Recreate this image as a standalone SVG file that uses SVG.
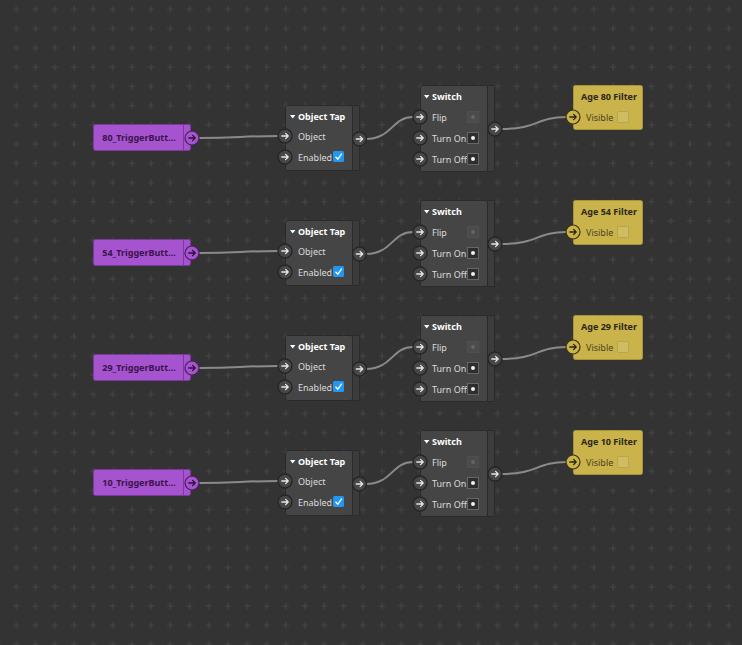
<svg xmlns="http://www.w3.org/2000/svg" width="742" height="645" viewBox="0 0 742 645">
<defs>
<pattern id="grid" x="6.7" y="-0.3" width="19.25" height="19.25" patternUnits="userSpaceOnUse">
<path d="M9.6,6.3 V12.9 M6.3,9.6 H12.9" stroke="#464646" stroke-width="1.1" fill="none"/>
</pattern>
<symbol id="arr" viewBox="-5 -5 10 10" overflow="visible">
<path d="M-3.2,0 H3.2 M0.6,-2.6 L3.2,0 L0.6,2.6" fill="none" stroke-width="1.3" stroke-linecap="round" stroke-linejoin="round"/>
</symbol>
<g id="tri"><path d="M0,0 H5.4 L2.7,3.6 Z" fill="#fff"/></g>
</defs>
<style>
text{font-family:"Noto Sans","Liberation Sans",Arial,sans-serif;font-size:9px}
.title{font-weight:bold;fill:#ffffff}
.lbl{fill:#dcdcdc}
.body{fill:#454545;stroke:#2a2a2a;stroke-width:1}
.strip{fill:#3c3c3c;stroke:#2a2a2a;stroke-width:1}
.port{fill:#474747;stroke:#262626;stroke-width:1.4}
.parr{stroke:#e8e8e8}
.trig{fill:#a653d0;stroke:#7a3a9a;stroke-width:1}
.trigt{font-weight:bold;fill:#3a1448;text-anchor:middle}
.tport{fill:#a653d0;stroke:#4a1e5e;stroke-width:1.2}
.tarr{stroke:#2a1035}
.filt{fill:#cab34a;stroke:#a8923a;stroke-width:1}
.filtt{font-weight:bold;fill:#2b2716;text-anchor:middle}
.filtl{fill:#4a4222}
.fport{fill:#cab34a;stroke:#3a3412;stroke-width:1.2}
.farr{stroke:#2a2610}
.fchk{fill:#d0bd62;stroke:#b9a54a;stroke-width:1}
.ind{fill:#2e2e2e;stroke:#666666;stroke-width:1}
.indoff{fill:#4b4b4b;stroke:#4f4f4f;stroke-width:1}
.chk{fill:#2196f3}
.wire{fill:none;stroke:#8a8a8a;stroke-width:2}
</style>
<rect width="742" height="645" fill="#333333"/>
<rect width="742" height="645" fill="url(#grid)"/>

<g id="connectors">
<path class="wire" d="M199,138 C240,138 240,136 278,136"/>
<path class="wire" d="M366,139 C392,139 392,117 413,117"/>
<path class="wire" d="M502,129 C537,129 537,117 566,117"/>
<path class="wire" d="M199,253 C240,253 240,251 278,251"/>
<path class="wire" d="M366,254 C392,254 392,232 413,232"/>
<path class="wire" d="M502,244 C537,244 537,232 566,232"/>
<path class="wire" d="M199,368 C240,368 240,366 278,366"/>
<path class="wire" d="M366,369 C392,369 392,347 413,347"/>
<path class="wire" d="M502,359 C537,359 537,347 566,347"/>
<path class="wire" d="M199,483 C240,483 240,481 278,481"/>
<path class="wire" d="M366,484 C392,484 392,462 413,462"/>
<path class="wire" d="M502,474 C537,474 537,462 566,462"/>
</g>

<!-- Row 1 -->
<g id="trigger80">
<rect class="trig" x="93.5" y="124.5" width="97" height="26" rx="2"/>
<line x1="183.5" y1="125" x2="183.5" y2="150" stroke="#7a3a9a"/>
<text class="trigt" x="139" y="140.5">80_TriggerButt...</text>
<circle class="tport" cx="192" cy="138" r="7"/>
<use href="#arr" x="187" y="133" width="10" height="10" class="tarr"/>
</g>
<g id="objecttap80">
<rect class="body" x="285.5" y="105.5" width="67" height="65" rx="2"/>
<rect class="strip" x="352.5" y="105.5" width="7" height="65" rx="1"/>
<use href="#tri" x="290" y="115"/>
<text class="title" x="298" y="120">Object Tap</text>
<circle class="port" cx="285" cy="136" r="7"/>
<use href="#arr" x="280" y="131" width="10" height="10" class="parr"/>
<text class="lbl" x="298" y="140">Object</text>
<circle class="port" cx="285" cy="157" r="7"/>
<use href="#arr" x="280" y="152" width="10" height="10" class="parr"/>
<text class="lbl" x="298" y="161">Enabled</text>
<rect class="chk" x="333" y="151" width="11" height="11" rx="1.5"/>
<path d="M335.5,156.8 L337.8,159.2 L341.8,153.6" fill="none" stroke="#fff" stroke-width="1.3"/>
<circle class="port" cx="359.5" cy="139" r="7"/>
<use href="#arr" x="354.5" y="134" width="10" height="10" class="parr"/>
</g>
<g id="switch80">
<rect class="body" x="420.5" y="85.5" width="67" height="86" rx="2"/>
<rect class="strip" x="487.5" y="85.5" width="7" height="86" rx="1"/>
<use href="#tri" x="424" y="95"/>
<text class="title" x="432" y="100">Switch</text>
<circle class="port" cx="420" cy="117" r="7"/>
<use href="#arr" x="415" y="112" width="10" height="10" class="parr"/>
<text class="lbl" x="432" y="121">Flip</text>
<rect class="indoff" x="467.5" y="111.5" width="11" height="11"/>
<circle cx="473" cy="117" r="1.9" fill="#666"/>
<circle class="port" cx="420" cy="138" r="7"/>
<use href="#arr" x="415" y="133" width="10" height="10" class="parr"/>
<text class="lbl" x="432" y="142">Turn On</text>
<rect class="ind" x="467.5" y="132.5" width="11" height="11"/>
<circle cx="473" cy="138" r="2" fill="#f0f0f0"/>
<circle class="port" cx="420" cy="159" r="7"/>
<use href="#arr" x="415" y="154" width="10" height="10" class="parr"/>
<text class="lbl" x="432" y="163">Turn Off</text>
<rect class="ind" x="467.5" y="153.5" width="11" height="11"/>
<circle cx="473" cy="159" r="2" fill="#f0f0f0"/>
<circle class="port" cx="495" cy="129" r="7"/>
<use href="#arr" x="490" y="124" width="10" height="10" class="parr"/>
</g>
<g id="filter80">
<rect class="filt" x="573.5" y="85.5" width="69" height="44" rx="2"/>
<text class="filtt" x="609" y="100">Age 80 Filter</text>
<circle class="fport" cx="573" cy="117" r="7"/>
<use href="#arr" x="568" y="112" width="10" height="10" class="farr"/>
<text class="filtl" x="586" y="120.5">Visible</text>
<rect class="fchk" x="617.5" y="111.5" width="11" height="11" rx="1"/>
</g>

<!-- Row 2 -->
<g id="trigger54">
<rect class="trig" x="93.5" y="239.5" width="97" height="26" rx="2"/>
<line x1="183.5" y1="240" x2="183.5" y2="265" stroke="#7a3a9a"/>
<text class="trigt" x="139" y="255.5">54_TriggerButt...</text>
<circle class="tport" cx="192" cy="253" r="7"/>
<use href="#arr" x="187" y="248" width="10" height="10" class="tarr"/>
</g>
<g id="objecttap54">
<rect class="body" x="285.5" y="220.5" width="67" height="65" rx="2"/>
<rect class="strip" x="352.5" y="220.5" width="7" height="65" rx="1"/>
<use href="#tri" x="290" y="230"/>
<text class="title" x="298" y="235">Object Tap</text>
<circle class="port" cx="285" cy="251" r="7"/>
<use href="#arr" x="280" y="246" width="10" height="10" class="parr"/>
<text class="lbl" x="298" y="255">Object</text>
<circle class="port" cx="285" cy="272" r="7"/>
<use href="#arr" x="280" y="267" width="10" height="10" class="parr"/>
<text class="lbl" x="298" y="276">Enabled</text>
<rect class="chk" x="333" y="266" width="11" height="11" rx="1.5"/>
<path d="M335.5,271.8 L337.8,274.2 L341.8,268.6" fill="none" stroke="#fff" stroke-width="1.3"/>
<circle class="port" cx="359.5" cy="254" r="7"/>
<use href="#arr" x="354.5" y="249" width="10" height="10" class="parr"/>
</g>
<g id="switch54">
<rect class="body" x="420.5" y="200.5" width="67" height="86" rx="2"/>
<rect class="strip" x="487.5" y="200.5" width="7" height="86" rx="1"/>
<use href="#tri" x="424" y="210"/>
<text class="title" x="432" y="215">Switch</text>
<circle class="port" cx="420" cy="232" r="7"/>
<use href="#arr" x="415" y="227" width="10" height="10" class="parr"/>
<text class="lbl" x="432" y="236">Flip</text>
<rect class="indoff" x="467.5" y="226.5" width="11" height="11"/>
<circle cx="473" cy="232" r="1.9" fill="#666"/>
<circle class="port" cx="420" cy="253" r="7"/>
<use href="#arr" x="415" y="248" width="10" height="10" class="parr"/>
<text class="lbl" x="432" y="257">Turn On</text>
<rect class="ind" x="467.5" y="247.5" width="11" height="11"/>
<circle cx="473" cy="253" r="2" fill="#f0f0f0"/>
<circle class="port" cx="420" cy="274" r="7"/>
<use href="#arr" x="415" y="269" width="10" height="10" class="parr"/>
<text class="lbl" x="432" y="278">Turn Off</text>
<rect class="ind" x="467.5" y="268.5" width="11" height="11"/>
<circle cx="473" cy="274" r="2" fill="#f0f0f0"/>
<circle class="port" cx="495" cy="244" r="7"/>
<use href="#arr" x="490" y="239" width="10" height="10" class="parr"/>
</g>
<g id="filter54">
<rect class="filt" x="573.5" y="200.5" width="69" height="44" rx="2"/>
<text class="filtt" x="609" y="215">Age 54 Filter</text>
<circle class="fport" cx="573" cy="232" r="7"/>
<use href="#arr" x="568" y="227" width="10" height="10" class="farr"/>
<text class="filtl" x="586" y="235.5">Visible</text>
<rect class="fchk" x="617.5" y="226.5" width="11" height="11" rx="1"/>
</g>

<!-- Row 3 -->
<g id="trigger29">
<rect class="trig" x="93.5" y="354.5" width="97" height="26" rx="2"/>
<line x1="183.5" y1="355" x2="183.5" y2="380" stroke="#7a3a9a"/>
<text class="trigt" x="139" y="370.5">29_TriggerButt...</text>
<circle class="tport" cx="192" cy="368" r="7"/>
<use href="#arr" x="187" y="363" width="10" height="10" class="tarr"/>
</g>
<g id="objecttap29">
<rect class="body" x="285.5" y="335.5" width="67" height="65" rx="2"/>
<rect class="strip" x="352.5" y="335.5" width="7" height="65" rx="1"/>
<use href="#tri" x="290" y="345"/>
<text class="title" x="298" y="350">Object Tap</text>
<circle class="port" cx="285" cy="366" r="7"/>
<use href="#arr" x="280" y="361" width="10" height="10" class="parr"/>
<text class="lbl" x="298" y="370">Object</text>
<circle class="port" cx="285" cy="387" r="7"/>
<use href="#arr" x="280" y="382" width="10" height="10" class="parr"/>
<text class="lbl" x="298" y="391">Enabled</text>
<rect class="chk" x="333" y="381" width="11" height="11" rx="1.5"/>
<path d="M335.5,386.8 L337.8,389.2 L341.8,383.6" fill="none" stroke="#fff" stroke-width="1.3"/>
<circle class="port" cx="359.5" cy="369" r="7"/>
<use href="#arr" x="354.5" y="364" width="10" height="10" class="parr"/>
</g>
<g id="switch29">
<rect class="body" x="420.5" y="315.5" width="67" height="86" rx="2"/>
<rect class="strip" x="487.5" y="315.5" width="7" height="86" rx="1"/>
<use href="#tri" x="424" y="325"/>
<text class="title" x="432" y="330">Switch</text>
<circle class="port" cx="420" cy="347" r="7"/>
<use href="#arr" x="415" y="342" width="10" height="10" class="parr"/>
<text class="lbl" x="432" y="351">Flip</text>
<rect class="indoff" x="467.5" y="341.5" width="11" height="11"/>
<circle cx="473" cy="347" r="1.9" fill="#666"/>
<circle class="port" cx="420" cy="368" r="7"/>
<use href="#arr" x="415" y="363" width="10" height="10" class="parr"/>
<text class="lbl" x="432" y="372">Turn On</text>
<rect class="ind" x="467.5" y="362.5" width="11" height="11"/>
<circle cx="473" cy="368" r="2" fill="#f0f0f0"/>
<circle class="port" cx="420" cy="389" r="7"/>
<use href="#arr" x="415" y="384" width="10" height="10" class="parr"/>
<text class="lbl" x="432" y="393">Turn Off</text>
<rect class="ind" x="467.5" y="383.5" width="11" height="11"/>
<circle cx="473" cy="389" r="2" fill="#f0f0f0"/>
<circle class="port" cx="495" cy="359" r="7"/>
<use href="#arr" x="490" y="354" width="10" height="10" class="parr"/>
</g>
<g id="filter29">
<rect class="filt" x="573.5" y="315.5" width="69" height="44" rx="2"/>
<text class="filtt" x="609" y="330">Age 29 Filter</text>
<circle class="fport" cx="573" cy="347" r="7"/>
<use href="#arr" x="568" y="342" width="10" height="10" class="farr"/>
<text class="filtl" x="586" y="350.5">Visible</text>
<rect class="fchk" x="617.5" y="341.5" width="11" height="11" rx="1"/>
</g>

<!-- Row 4 -->
<g id="trigger10">
<rect class="trig" x="93.5" y="469.5" width="97" height="26" rx="2"/>
<line x1="183.5" y1="470" x2="183.5" y2="495" stroke="#7a3a9a"/>
<text class="trigt" x="139" y="485.5">10_TriggerButt...</text>
<circle class="tport" cx="192" cy="483" r="7"/>
<use href="#arr" x="187" y="478" width="10" height="10" class="tarr"/>
</g>
<g id="objecttap10">
<rect class="body" x="285.5" y="450.5" width="67" height="65" rx="2"/>
<rect class="strip" x="352.5" y="450.5" width="7" height="65" rx="1"/>
<use href="#tri" x="290" y="460"/>
<text class="title" x="298" y="465">Object Tap</text>
<circle class="port" cx="285" cy="481" r="7"/>
<use href="#arr" x="280" y="476" width="10" height="10" class="parr"/>
<text class="lbl" x="298" y="485">Object</text>
<circle class="port" cx="285" cy="502" r="7"/>
<use href="#arr" x="280" y="497" width="10" height="10" class="parr"/>
<text class="lbl" x="298" y="506">Enabled</text>
<rect class="chk" x="333" y="496" width="11" height="11" rx="1.5"/>
<path d="M335.5,501.8 L337.8,504.2 L341.8,498.6" fill="none" stroke="#fff" stroke-width="1.3"/>
<circle class="port" cx="359.5" cy="484" r="7"/>
<use href="#arr" x="354.5" y="479" width="10" height="10" class="parr"/>
</g>
<g id="switch10">
<rect class="body" x="420.5" y="430.5" width="67" height="86" rx="2"/>
<rect class="strip" x="487.5" y="430.5" width="7" height="86" rx="1"/>
<use href="#tri" x="424" y="440"/>
<text class="title" x="432" y="445">Switch</text>
<circle class="port" cx="420" cy="462" r="7"/>
<use href="#arr" x="415" y="457" width="10" height="10" class="parr"/>
<text class="lbl" x="432" y="466">Flip</text>
<rect class="indoff" x="467.5" y="456.5" width="11" height="11"/>
<circle cx="473" cy="462" r="1.9" fill="#666"/>
<circle class="port" cx="420" cy="483" r="7"/>
<use href="#arr" x="415" y="478" width="10" height="10" class="parr"/>
<text class="lbl" x="432" y="487">Turn On</text>
<rect class="ind" x="467.5" y="477.5" width="11" height="11"/>
<circle cx="473" cy="483" r="2" fill="#f0f0f0"/>
<circle class="port" cx="420" cy="504" r="7"/>
<use href="#arr" x="415" y="499" width="10" height="10" class="parr"/>
<text class="lbl" x="432" y="508">Turn Off</text>
<rect class="ind" x="467.5" y="498.5" width="11" height="11"/>
<circle cx="473" cy="504" r="2" fill="#f0f0f0"/>
<circle class="port" cx="495" cy="474" r="7"/>
<use href="#arr" x="490" y="469" width="10" height="10" class="parr"/>
</g>
<g id="filter10">
<rect class="filt" x="573.5" y="430.5" width="69" height="44" rx="2"/>
<text class="filtt" x="609" y="445">Age 10 Filter</text>
<circle class="fport" cx="573" cy="462" r="7"/>
<use href="#arr" x="568" y="457" width="10" height="10" class="farr"/>
<text class="filtl" x="586" y="465.5">Visible</text>
<rect class="fchk" x="617.5" y="456.5" width="11" height="11" rx="1"/>
</g>
</svg>
